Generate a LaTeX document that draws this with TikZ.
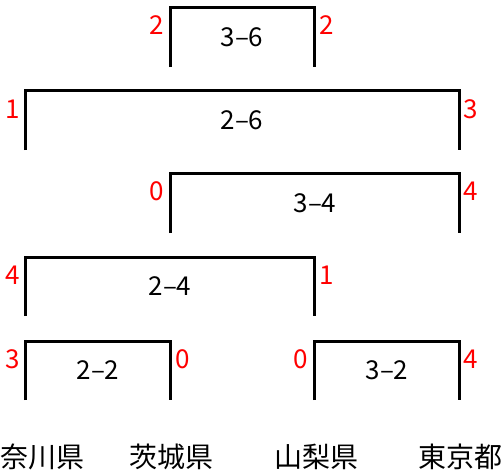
\documentclass[tikz,border=0pt]{standalone}
\usepackage{fontspec}
\newfontfamily\jp{Noto Sans CJK JP}
\tikzset{
  bracket/.style={line width=3pt, line cap=butt, line join=miter},
  score/.style={text=red, font=\jp\fontsize{26}{26}\selectfont, inner sep=0pt},
  result/.style={font=\jp\fontsize{26}{26}\selectfont, inner sep=0pt},
  team/.style={font=\jp\fontsize{28}{28}\selectfont, inner sep=0pt},
}
\begin{document}
\begin{tikzpicture}[x=1pt,y=-1pt]
\useasboundingbox (0,0) rectangle (504,474);
% brackets: (left x, right x, top y)
\draw[bracket] (170,67) -- (170,7) -- (314,7) -- (314,67);
\node[result] (r1) at (242,37) {3–6};
\node[score] (s1l) at (157,25) {2};
\node[score] (s1r) at (327,25) {2};

\draw[bracket] (25,150) -- (25,90) -- (459,90) -- (459,150);
\node[result] (r2) at (242,120) {2–6};
\node[score] (s2l) at (13,109) {1};
\node[score] (s2r) at (471,109) {3};

\draw[bracket] (170,233) -- (170,173) -- (459,173) -- (459,233);
\node[result] (r3) at (315,203) {3–4};
\node[score] (s3l) at (157,191) {0};
\node[score] (s3r) at (471,191) {4};

\draw[bracket] (25,316) -- (25,257) -- (314,257) -- (314,316);
\node[result] (r4) at (170,286) {2–4};
\node[score] (s4l) at (13,275) {4};
\node[score] (s4r) at (327,275) {1};

\draw[bracket] (25,400) -- (25,341) -- (170,341) -- (170,400);
\node[result] (r5) at (98,370) {2–2};
\node[score] (s5l) at (13,359) {3};
\node[score] (s5r) at (183,359) {0};

\draw[bracket] (314,400) -- (314,341) -- (459,341) -- (459,400);
\node[result] (r6) at (387,370) {3–2};
\node[score] (s6l) at (301,359) {0};
\node[score] (s6r) at (471,359) {4};

\node[team, anchor=west] (t1) at (0,457) {奈川県};
\node[team] (t2) at (171,457) {茨城県};
\node[team] (t3) at (316,457) {山梨県};
\node[team] (t4) at (460,457) {東京都};
\end{tikzpicture}
\end{document}
